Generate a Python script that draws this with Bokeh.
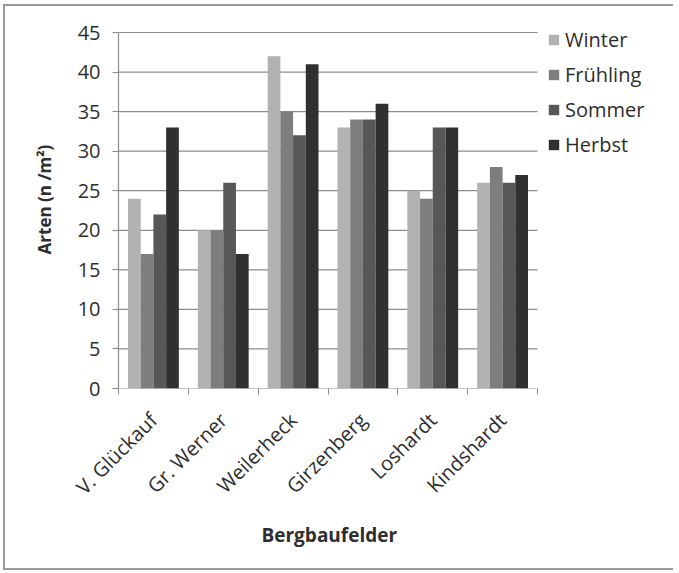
from math import pi

from bokeh.embed import file_html
from bokeh.models import ColumnDataSource, FixedTicker, Legend, LegendItem, Title
from bokeh.plotting import figure
from bokeh.resources import INLINE

# Species counts per mining field and season
fields = ["V. Glückauf", "Gr. Werner", "Weilerheck", "Girzenberg", "Loshardt", "Kindshardt"]
seasons = ["Winter", "Frühling", "Sommer", "Herbst"]
winter = [24, 20, 42, 33, 25, 26]
fruehling = [17, 20, 35, 34, 24, 28]
sommer = [22, 26, 32, 34, 33, 26]
herbst = [33, 17, 41, 36, 33, 27]
y_ticks = [0, 5, 10, 15, 20, 25, 30, 35, 40, 45]

series = [winter, fruehling, sommer, herbst]
colors = ["#b2b2b2", "#7e7e7e", "#575757", "#303030"]

FONT = "Open Sans"
TEXT = "#2e2e2e"
AXIS = "#8c8c8c"
EDGE = "#9a9a9a"

W, H = 679, 573
LEFT, RIGHT, TOP, BOTTOM = 118, 8, 10, 185
PLOT_W, PLOT_H = 419, 356  # pixel size of the area holding the bars (0..6, 0..45)
n = len(fields)
y_max = y_ticks[-1]
# the frame also holds the legend, so both ranges run past the bar area
x_end = n * (W - LEFT - RIGHT) / PLOT_W
y_end = y_max * (H - TOP - BOTTOM) / PLOT_H

p = figure(width=W, height=H, output_backend="svg", toolbar_location=None,
           x_range=(0, x_end), y_range=(0, y_end),
           min_border_left=LEFT, min_border_right=RIGHT,
           min_border_top=TOP, min_border_bottom=BOTTOM)
p.background_fill_color = None
p.border_fill_alpha = 0
p.outline_line_color = None
# thin frame on the left, top and bottom of the chart, drawn behind the transparent canvas
p.styles = {"background-color": "white",
            "clip-path": "inset(0 6px 0 0)",
            "box-shadow": (f"inset 3px 0 0 0 #fff, inset 0 4px 0 0 #fff, "
                           f"inset 0 -3px 0 0 #fff, inset 5px 0 0 0 {EDGE}, "
                           f"inset 0 6px 0 0 {EDGE}, inset 0 -5px 0 0 {EDGE}")}

# horizontal grid and base line, limited to the bar area
p.xgrid.grid_line_color = None
p.ygrid.grid_line_color = None
p.segment(x0=[0] * len(y_ticks), x1=[n] * len(y_ticks), y0=y_ticks, y1=y_ticks,
          line_color=AXIS, line_width=1.2)

bar_w = 0.182
offsets = [-1.5 * bar_w, -0.5 * bar_w, 0.5 * bar_w, 1.5 * bar_w]
centers = [i + 0.5 for i in range(n)]

items = []
for name, vals, col, off in zip(seasons, series, colors, offsets):
    src = ColumnDataSource(dict(x=[c + off for c in centers], top=vals))
    r = p.vbar(x="x", top="top", bottom=0, width=bar_w, source=src,
               fill_color=col, line_color=None)
    items.append(LegendItem(label=name, renderers=[r]))

# X axis: labels at the group centres, ticks at the group boundaries
p.xaxis.ticker = FixedTicker(ticks=centers, minor_ticks=list(range(n + 1)))
p.xaxis.major_label_overrides = {c: f for c, f in zip(centers, fields)}
p.xaxis.major_label_orientation = pi / 4
p.xaxis.major_tick_line_color = None
p.xaxis.minor_tick_line_color = AXIS
p.xaxis.minor_tick_out = 6
p.xaxis.minor_tick_in = 0
p.xaxis.axis_line_color = None
p.xaxis.major_label_text_font = FONT
p.xaxis.major_label_text_font_size = "20px"
p.xaxis.major_label_text_color = TEXT
p.xaxis.major_label_standoff = 22

# x axis title, centred under the bar area
p.add_layout(Title(text="Bergbaufelder", align="left", offset=143, standoff=15,
                   text_font=FONT, text_font_size="19px", text_font_style="bold",
                   text_color=TEXT), "below")

# Y axis
p.yaxis.ticker = FixedTicker(ticks=y_ticks)
p.yaxis.bounds = (0, y_max)
p.yaxis.axis_line_color = AXIS
p.yaxis.axis_line_width = 1.2
p.yaxis.major_tick_line_color = AXIS
p.yaxis.major_tick_out = 6
p.yaxis.major_tick_in = 0
p.yaxis.minor_tick_line_color = None
p.yaxis.major_label_text_font = FONT
p.yaxis.major_label_text_font_size = "20px"
p.yaxis.major_label_text_color = TEXT
p.yaxis.major_label_standoff = 12
p.yaxis.axis_label = "Arten (n /m²)"
p.yaxis.axis_label_standoff = 19
p.yaxis.axis_label_text_font = FONT
p.yaxis.axis_label_text_font_size = "17px"
p.yaxis.axis_label_text_font_style = "bold"
p.yaxis.axis_label_text_color = TEXT

legend = Legend(items=items, location=(429, 230), orientation="vertical",
                label_text_font=FONT, label_text_font_size="20px",
                label_text_color=TEXT, glyph_width=13, glyph_height=13,
                label_height=20, spacing=8, padding=0, margin=0,
                label_standoff=5, background_fill_alpha=0,
                border_line_color=None)
p.add_layout(legend, "center")

open("out.html", "w").write(file_html(p, INLINE))
